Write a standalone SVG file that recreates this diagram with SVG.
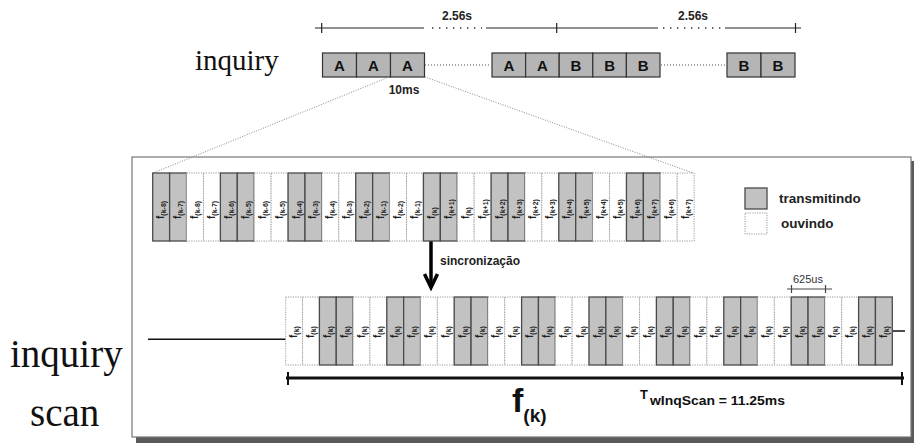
<svg xmlns="http://www.w3.org/2000/svg" width="914" height="446" viewBox="0 0 914 446">
<style>
.box{fill:#b5b5b5;stroke:#333;stroke-width:1.2}
.bl{font:bold 15px "Liberation Sans",Arial,sans-serif;fill:#111;text-anchor:middle}
.tl{stroke:#222;stroke-width:1.2;fill:none}
.dots{stroke:#333;stroke-width:1.6;stroke-dasharray:1.4 5.6;fill:none}
.fine{stroke:#555;stroke-width:1.2;stroke-dasharray:1 2;fill:none}
.zoom{stroke:#888;stroke-width:1;stroke-dasharray:1 1.5;fill:none}
.g{fill:#c2c2c2;stroke:#4a4a4a;stroke-width:1.3}
.w{fill:#fff;stroke:#9a9a9a;stroke-width:1;stroke-dasharray:1.2 1.2}
.lb{font:bold 10px "Liberation Sans",Arial,sans-serif;fill:#222}
.sb{font-size:7px}
.sm{font:bold 12px "Liberation Sans",Arial,sans-serif;fill:#222;text-anchor:middle}
.serif{font-family:"Liberation Serif","Times New Roman",serif;fill:#111}
</style>

<!-- top: inquiry -->
<g id="inquiry-label"><text class="serif" x="195" y="70" font-size="29">inquiry</text></g>

<g id="top-timeline">
  <line class="tl" x1="315" y1="28" x2="424" y2="28"/>
  <line class="tl" x1="321.7" y1="23" x2="321.7" y2="33"/>
  <line class="dots" x1="432" y1="28" x2="482" y2="28"/>
  <line class="tl" x1="486" y1="28" x2="658" y2="28"/>
  <line class="tl" x1="556.7" y1="23" x2="556.7" y2="33"/>
  <line class="dots" x1="663" y1="28" x2="722" y2="28"/>
  <line class="tl" x1="725" y1="28" x2="801" y2="28"/>
  <line class="tl" x1="795.5" y1="23" x2="795.5" y2="33"/>
  <text class="sm" x="457" y="20">2.56s</text>
  <text class="sm" x="693" y="20">2.56s</text>
</g>

<g id="top-boxes">
  <rect class="box" x="322.5" y="53" width="34" height="24"/><text class="bl" x="339.5" y="70.5">A</text>
  <rect class="box" x="356.5" y="53" width="34" height="24"/><text class="bl" x="373.5" y="70.5">A</text>
  <rect class="box" x="390.5" y="53" width="34" height="24"/><text class="bl" x="407.5" y="70.5">A</text>
  <line class="fine" x1="425" y1="65" x2="491" y2="65"/>
  <rect class="box" x="492" y="53" width="33.6" height="24"/><text class="bl" x="508.8" y="70.5">A</text>
  <rect class="box" x="525.6" y="53" width="33.6" height="24"/><text class="bl" x="542.4" y="70.5">A</text>
  <rect class="box" x="559.2" y="53" width="33.6" height="24"/><text class="bl" x="576" y="70.5">B</text>
  <rect class="box" x="592.8" y="53" width="33.6" height="24"/><text class="bl" x="609.6" y="70.5">B</text>
  <rect class="box" x="626.4" y="53" width="33.6" height="24"/><text class="bl" x="643.2" y="70.5">B</text>
  <line class="fine" x1="661" y1="65" x2="726" y2="65"/>
  <rect class="box" x="727" y="53" width="34" height="24"/><text class="bl" x="744" y="70.5">B</text>
  <rect class="box" x="761" y="53" width="34" height="24"/><text class="bl" x="778" y="70.5">B</text>
  <text class="sm" x="404" y="94" font-size="11">10ms</text>
</g>

<!-- panel -->
<g id="panel">
  <rect x="136" y="161" width="779" height="282" fill="#5a5a5a"/>
  <rect x="132" y="157" width="779" height="280" fill="#fff" stroke="#777" stroke-width="1.2"/>
</g>

<g id="connectors">
  <line class="zoom" x1="389" y1="77" x2="153" y2="173"/>
  <line class="zoom" x1="425" y1="77" x2="693" y2="173"/>
  <!-- sync arrow -->
  <line x1="431" y1="241" x2="431" y2="287" stroke="#000" stroke-width="3.5"/>
  <polyline points="424.5,274 431,287.5 437.5,274" fill="none" stroke="#000" stroke-width="3.5" stroke-linejoin="miter"/>
</g>
<g id="sync-label"><text x="440" y="265" font-family="Liberation Sans,Arial,sans-serif" font-weight="bold" font-size="12" fill="#222">sincronização</text></g>

<!-- upper row (inquiry) -->
<g id="upper-row">
  <g id="u0" transform="translate(152.7,0)"><rect class="g" y="173" width="16.92" height="68"/><text class="lb" transform="translate(11.5,219) rotate(-90)">f<tspan class="sb" dy="2">(k-8)</tspan></text></g>
  <g id="u1" transform="translate(169.62,0)"><rect class="g" y="173" width="16.92" height="68"/><text class="lb" transform="translate(11.5,219) rotate(-90)">f<tspan class="sb" dy="2">(k-7)</tspan></text></g>
  <g id="u2" transform="translate(186.54,0)"><rect class="w" y="173" width="16.92" height="68"/><text class="lb" transform="translate(11.5,219) rotate(-90)">f<tspan class="sb" dy="2">(k-8)</tspan></text></g>
  <g id="u3" transform="translate(203.46,0)"><rect class="w" y="173" width="16.92" height="68"/><text class="lb" transform="translate(11.5,219) rotate(-90)">f<tspan class="sb" dy="2">(k-7)</tspan></text></g>
  <g id="u4" transform="translate(220.38,0)"><rect class="g" y="173" width="16.92" height="68"/><text class="lb" transform="translate(11.5,219) rotate(-90)">f<tspan class="sb" dy="2">(k-6)</tspan></text></g>
  <g id="u5" transform="translate(237.3,0)"><rect class="g" y="173" width="16.92" height="68"/><text class="lb" transform="translate(11.5,219) rotate(-90)">f<tspan class="sb" dy="2">(k-5)</tspan></text></g>
  <g id="u6" transform="translate(254.22,0)"><rect class="w" y="173" width="16.92" height="68"/><text class="lb" transform="translate(11.5,219) rotate(-90)">f<tspan class="sb" dy="2">(k-6)</tspan></text></g>
  <g id="u7" transform="translate(271.14,0)"><rect class="w" y="173" width="16.92" height="68"/><text class="lb" transform="translate(11.5,219) rotate(-90)">f<tspan class="sb" dy="2">(k-5)</tspan></text></g>
  <g id="u8" transform="translate(288.06,0)"><rect class="g" y="173" width="16.92" height="68"/><text class="lb" transform="translate(11.5,219) rotate(-90)">f<tspan class="sb" dy="2">(k-4)</tspan></text></g>
  <g id="u9" transform="translate(304.98,0)"><rect class="g" y="173" width="16.92" height="68"/><text class="lb" transform="translate(11.5,219) rotate(-90)">f<tspan class="sb" dy="2">(k-3)</tspan></text></g>
  <g id="u10" transform="translate(321.9,0)"><rect class="w" y="173" width="16.92" height="68"/><text class="lb" transform="translate(11.5,219) rotate(-90)">f<tspan class="sb" dy="2">(k-4)</tspan></text></g>
  <g id="u11" transform="translate(338.82,0)"><rect class="w" y="173" width="16.92" height="68"/><text class="lb" transform="translate(11.5,219) rotate(-90)">f<tspan class="sb" dy="2">(k-3)</tspan></text></g>
  <g id="u12" transform="translate(355.74,0)"><rect class="g" y="173" width="16.92" height="68"/><text class="lb" transform="translate(11.5,219) rotate(-90)">f<tspan class="sb" dy="2">(k-2)</tspan></text></g>
  <g id="u13" transform="translate(372.66,0)"><rect class="g" y="173" width="16.92" height="68"/><text class="lb" transform="translate(11.5,219) rotate(-90)">f<tspan class="sb" dy="2">(k-1)</tspan></text></g>
  <g id="u14" transform="translate(389.58,0)"><rect class="w" y="173" width="16.92" height="68"/><text class="lb" transform="translate(11.5,219) rotate(-90)">f<tspan class="sb" dy="2">(k-2)</tspan></text></g>
  <g id="u15" transform="translate(406.5,0)"><rect class="w" y="173" width="16.92" height="68"/><text class="lb" transform="translate(11.5,219) rotate(-90)">f<tspan class="sb" dy="2">(k-1)</tspan></text></g>
  <g id="u16" transform="translate(423.42,0)"><rect class="g" y="173" width="16.92" height="68"/><text class="lb" transform="translate(11.5,219) rotate(-90)">f<tspan class="sb" dy="2">(k)</tspan></text></g>
  <g id="u17" transform="translate(440.34,0)"><rect class="g" y="173" width="16.92" height="68"/><text class="lb" transform="translate(11.5,219) rotate(-90)">f<tspan class="sb" dy="2">(k+1)</tspan></text></g>
  <g id="u18" transform="translate(457.26,0)"><rect class="w" y="173" width="16.92" height="68"/><text class="lb" transform="translate(11.5,219) rotate(-90)">f<tspan class="sb" dy="2">(k)</tspan></text></g>
  <g id="u19" transform="translate(474.18,0)"><rect class="w" y="173" width="16.92" height="68"/><text class="lb" transform="translate(11.5,219) rotate(-90)">f<tspan class="sb" dy="2">(k+1)</tspan></text></g>
  <g id="u20" transform="translate(491.1,0)"><rect class="g" y="173" width="16.92" height="68"/><text class="lb" transform="translate(11.5,219) rotate(-90)">f<tspan class="sb" dy="2">(k+2)</tspan></text></g>
  <g id="u21" transform="translate(508.02,0)"><rect class="g" y="173" width="16.92" height="68"/><text class="lb" transform="translate(11.5,219) rotate(-90)">f<tspan class="sb" dy="2">(k+3)</tspan></text></g>
  <g id="u22" transform="translate(524.94,0)"><rect class="w" y="173" width="16.92" height="68"/><text class="lb" transform="translate(11.5,219) rotate(-90)">f<tspan class="sb" dy="2">(k+2)</tspan></text></g>
  <g id="u23" transform="translate(541.86,0)"><rect class="w" y="173" width="16.92" height="68"/><text class="lb" transform="translate(11.5,219) rotate(-90)">f<tspan class="sb" dy="2">(k+3)</tspan></text></g>
  <g id="u24" transform="translate(558.78,0)"><rect class="g" y="173" width="16.92" height="68"/><text class="lb" transform="translate(11.5,219) rotate(-90)">f<tspan class="sb" dy="2">(k+4)</tspan></text></g>
  <g id="u25" transform="translate(575.7,0)"><rect class="g" y="173" width="16.92" height="68"/><text class="lb" transform="translate(11.5,219) rotate(-90)">f<tspan class="sb" dy="2">(k+5)</tspan></text></g>
  <g id="u26" transform="translate(592.62,0)"><rect class="w" y="173" width="16.92" height="68"/><text class="lb" transform="translate(11.5,219) rotate(-90)">f<tspan class="sb" dy="2">(k+4)</tspan></text></g>
  <g id="u27" transform="translate(609.54,0)"><rect class="w" y="173" width="16.92" height="68"/><text class="lb" transform="translate(11.5,219) rotate(-90)">f<tspan class="sb" dy="2">(k+5)</tspan></text></g>
  <g id="u28" transform="translate(626.46,0)"><rect class="g" y="173" width="16.92" height="68"/><text class="lb" transform="translate(11.5,219) rotate(-90)">f<tspan class="sb" dy="2">(k+6)</tspan></text></g>
  <g id="u29" transform="translate(643.38,0)"><rect class="g" y="173" width="16.92" height="68"/><text class="lb" transform="translate(11.5,219) rotate(-90)">f<tspan class="sb" dy="2">(k+7)</tspan></text></g>
  <g id="u30" transform="translate(660.3,0)"><rect class="w" y="173" width="16.92" height="68"/><text class="lb" transform="translate(11.5,219) rotate(-90)">f<tspan class="sb" dy="2">(k+6)</tspan></text></g>
  <g id="u31" transform="translate(677.22,0)"><rect class="w" y="173" width="16.92" height="68"/><text class="lb" transform="translate(11.5,219) rotate(-90)">f<tspan class="sb" dy="2">(k+7)</tspan></text></g>
</g>

<!-- legend -->
<g id="legend">
  <rect class="g" x="745" y="188" width="22" height="21"/>
  <rect class="w" x="745" y="213" width="22" height="21"/>
  <text x="779" y="203" font-family="Liberation Sans,Arial,sans-serif" font-weight="bold" font-size="13.5" fill="#222">transmitindo</text>
  <text x="781" y="228" font-family="Liberation Sans,Arial,sans-serif" font-weight="bold" font-size="13.5" fill="#222">ouvindo</text>
</g>

<!-- lower row (inquiry scan) -->
<g id="scan-lines">
  <line x1="148" y1="339.3" x2="285.7" y2="339.3" stroke="#111" stroke-width="1.5"/>
  <line x1="892.3" y1="331" x2="905" y2="331" stroke="#111" stroke-width="1.5"/>
</g>
<g id="lower-row">
  <g id="l0" transform="translate(285.7,0)"><rect class="w" y="297" width="16.85" height="68"/><text class="lb" transform="translate(11.5,338) rotate(-90)">f<tspan class="sb" dy="2">(k)</tspan></text></g>
  <g id="l1" transform="translate(302.55,0)"><rect class="w" y="297" width="16.85" height="68"/><text class="lb" transform="translate(11.5,338) rotate(-90)">f<tspan class="sb" dy="2">(k)</tspan></text></g>
  <g id="l2" transform="translate(319.4,0)"><rect class="g" y="297" width="16.85" height="68"/><text class="lb" transform="translate(11.5,338) rotate(-90)">f<tspan class="sb" dy="2">(k)</tspan></text></g>
  <g id="l3" transform="translate(336.25,0)"><rect class="g" y="297" width="16.85" height="68"/><text class="lb" transform="translate(11.5,338) rotate(-90)">f<tspan class="sb" dy="2">(k)</tspan></text></g>
  <g id="l4" transform="translate(353.1,0)"><rect class="w" y="297" width="16.85" height="68"/><text class="lb" transform="translate(11.5,338) rotate(-90)">f<tspan class="sb" dy="2">(k)</tspan></text></g>
  <g id="l5" transform="translate(369.95,0)"><rect class="w" y="297" width="16.85" height="68"/><text class="lb" transform="translate(11.5,338) rotate(-90)">f<tspan class="sb" dy="2">(k)</tspan></text></g>
  <g id="l6" transform="translate(386.8,0)"><rect class="g" y="297" width="16.85" height="68"/><text class="lb" transform="translate(11.5,338) rotate(-90)">f<tspan class="sb" dy="2">(k)</tspan></text></g>
  <g id="l7" transform="translate(403.65,0)"><rect class="g" y="297" width="16.85" height="68"/><text class="lb" transform="translate(11.5,338) rotate(-90)">f<tspan class="sb" dy="2">(k)</tspan></text></g>
  <g id="l8" transform="translate(420.5,0)"><rect class="w" y="297" width="16.85" height="68"/><text class="lb" transform="translate(11.5,338) rotate(-90)">f<tspan class="sb" dy="2">(k)</tspan></text></g>
  <g id="l9" transform="translate(437.35,0)"><rect class="w" y="297" width="16.85" height="68"/><text class="lb" transform="translate(11.5,338) rotate(-90)">f<tspan class="sb" dy="2">(k)</tspan></text></g>
  <g id="l10" transform="translate(454.2,0)"><rect class="g" y="297" width="16.85" height="68"/><text class="lb" transform="translate(11.5,338) rotate(-90)">f<tspan class="sb" dy="2">(k)</tspan></text></g>
  <g id="l11" transform="translate(471.05,0)"><rect class="g" y="297" width="16.85" height="68"/><text class="lb" transform="translate(11.5,338) rotate(-90)">f<tspan class="sb" dy="2">(k)</tspan></text></g>
  <g id="l12" transform="translate(487.9,0)"><rect class="w" y="297" width="16.85" height="68"/><text class="lb" transform="translate(11.5,338) rotate(-90)">f<tspan class="sb" dy="2">(k)</tspan></text></g>
  <g id="l13" transform="translate(504.75,0)"><rect class="w" y="297" width="16.85" height="68"/><text class="lb" transform="translate(11.5,338) rotate(-90)">f<tspan class="sb" dy="2">(k)</tspan></text></g>
  <g id="l14" transform="translate(521.6,0)"><rect class="g" y="297" width="16.85" height="68"/><text class="lb" transform="translate(11.5,338) rotate(-90)">f<tspan class="sb" dy="2">(k)</tspan></text></g>
  <g id="l15" transform="translate(538.45,0)"><rect class="g" y="297" width="16.85" height="68"/><text class="lb" transform="translate(11.5,338) rotate(-90)">f<tspan class="sb" dy="2">(k)</tspan></text></g>
  <g id="l16" transform="translate(555.3,0)"><rect class="w" y="297" width="16.85" height="68"/><text class="lb" transform="translate(11.5,338) rotate(-90)">f<tspan class="sb" dy="2">(k)</tspan></text></g>
  <g id="l17" transform="translate(572.15,0)"><rect class="w" y="297" width="16.85" height="68"/><text class="lb" transform="translate(11.5,338) rotate(-90)">f<tspan class="sb" dy="2">(k)</tspan></text></g>
  <g id="l18" transform="translate(589,0)"><rect class="g" y="297" width="16.85" height="68"/><text class="lb" transform="translate(11.5,338) rotate(-90)">f<tspan class="sb" dy="2">(k)</tspan></text></g>
  <g id="l19" transform="translate(605.85,0)"><rect class="g" y="297" width="16.85" height="68"/><text class="lb" transform="translate(11.5,338) rotate(-90)">f<tspan class="sb" dy="2">(k)</tspan></text></g>
  <g id="l20" transform="translate(622.7,0)"><rect class="w" y="297" width="16.85" height="68"/><text class="lb" transform="translate(11.5,338) rotate(-90)">f<tspan class="sb" dy="2">(k)</tspan></text></g>
  <g id="l21" transform="translate(639.55,0)"><rect class="w" y="297" width="16.85" height="68"/><text class="lb" transform="translate(11.5,338) rotate(-90)">f<tspan class="sb" dy="2">(k)</tspan></text></g>
  <g id="l22" transform="translate(656.4,0)"><rect class="g" y="297" width="16.85" height="68"/><text class="lb" transform="translate(11.5,338) rotate(-90)">f<tspan class="sb" dy="2">(k)</tspan></text></g>
  <g id="l23" transform="translate(673.25,0)"><rect class="g" y="297" width="16.85" height="68"/><text class="lb" transform="translate(11.5,338) rotate(-90)">f<tspan class="sb" dy="2">(k)</tspan></text></g>
  <g id="l24" transform="translate(690.1,0)"><rect class="w" y="297" width="16.85" height="68"/><text class="lb" transform="translate(11.5,338) rotate(-90)">f<tspan class="sb" dy="2">(k)</tspan></text></g>
  <g id="l25" transform="translate(706.95,0)"><rect class="w" y="297" width="16.85" height="68"/><text class="lb" transform="translate(11.5,338) rotate(-90)">f<tspan class="sb" dy="2">(k)</tspan></text></g>
  <g id="l26" transform="translate(723.8,0)"><rect class="g" y="297" width="16.85" height="68"/><text class="lb" transform="translate(11.5,338) rotate(-90)">f<tspan class="sb" dy="2">(k)</tspan></text></g>
  <g id="l27" transform="translate(740.65,0)"><rect class="g" y="297" width="16.85" height="68"/><text class="lb" transform="translate(11.5,338) rotate(-90)">f<tspan class="sb" dy="2">(k)</tspan></text></g>
  <g id="l28" transform="translate(757.5,0)"><rect class="w" y="297" width="16.85" height="68"/><text class="lb" transform="translate(11.5,338) rotate(-90)">f<tspan class="sb" dy="2">(k)</tspan></text></g>
  <g id="l29" transform="translate(774.35,0)"><rect class="w" y="297" width="16.85" height="68"/><text class="lb" transform="translate(11.5,338) rotate(-90)">f<tspan class="sb" dy="2">(k)</tspan></text></g>
  <g id="l30" transform="translate(791.2,0)"><rect class="g" y="297" width="16.85" height="68"/><text class="lb" transform="translate(11.5,338) rotate(-90)">f<tspan class="sb" dy="2">(k)</tspan></text></g>
  <g id="l31" transform="translate(808.05,0)"><rect class="g" y="297" width="16.85" height="68"/><text class="lb" transform="translate(11.5,338) rotate(-90)">f<tspan class="sb" dy="2">(k)</tspan></text></g>
  <g id="l32" transform="translate(824.9,0)"><rect class="w" y="297" width="16.85" height="68"/><text class="lb" transform="translate(11.5,338) rotate(-90)">f<tspan class="sb" dy="2">(k)</tspan></text></g>
  <g id="l33" transform="translate(841.75,0)"><rect class="w" y="297" width="16.85" height="68"/><text class="lb" transform="translate(11.5,338) rotate(-90)">f<tspan class="sb" dy="2">(k)</tspan></text></g>
  <g id="l34" transform="translate(858.6,0)"><rect class="g" y="297" width="16.85" height="68"/><text class="lb" transform="translate(11.5,338) rotate(-90)">f<tspan class="sb" dy="2">(k)</tspan></text></g>
  <g id="l35" transform="translate(875.45,0)"><rect class="g" y="297" width="16.85" height="68"/><text class="lb" transform="translate(11.5,338) rotate(-90)">f<tspan class="sb" dy="2">(k)</tspan></text></g>
</g>

<g id="dim-625us">
  <line x1="787" y1="289" x2="832" y2="289" stroke="#444" stroke-width="1.2"/>
  <line x1="791.5" y1="285" x2="791.5" y2="293" stroke="#444" stroke-width="1.2"/>
  <line x1="825.5" y1="285" x2="825.5" y2="293" stroke="#444" stroke-width="1.2"/>
  <text x="808" y="283" font-family="Liberation Sans,Arial,sans-serif" font-size="11" fill="#333" text-anchor="middle">625us</text>
</g>

<g id="scan-window">
  <line x1="286" y1="378" x2="904" y2="378" stroke="#111" stroke-width="3"/>
  <line x1="288" y1="372" x2="288" y2="385" stroke="#111" stroke-width="2"/>
  <line x1="902" y1="372" x2="902" y2="385" stroke="#111" stroke-width="2"/>
  <text x="512" y="412" font-family="Liberation Sans,Arial,sans-serif" font-weight="bold" font-size="34" fill="#111">f<tspan font-size="19" dy="10">(k)</tspan></text>
  <text x="640" y="399" font-family="Liberation Sans,Arial,sans-serif" font-weight="bold" font-size="13" fill="#111">T<tspan font-size="12.5" dx="2" dy="6" textLength="135" lengthAdjust="spacingAndGlyphs">wInqScan = 11.25ms</tspan></text>
</g>

<g id="inquiry-scan-label">
  <text class="serif" x="10" y="367" font-size="39">inquiry</text>
  <text class="serif" x="30" y="426" font-size="39">scan</text>
</g>
</svg>
